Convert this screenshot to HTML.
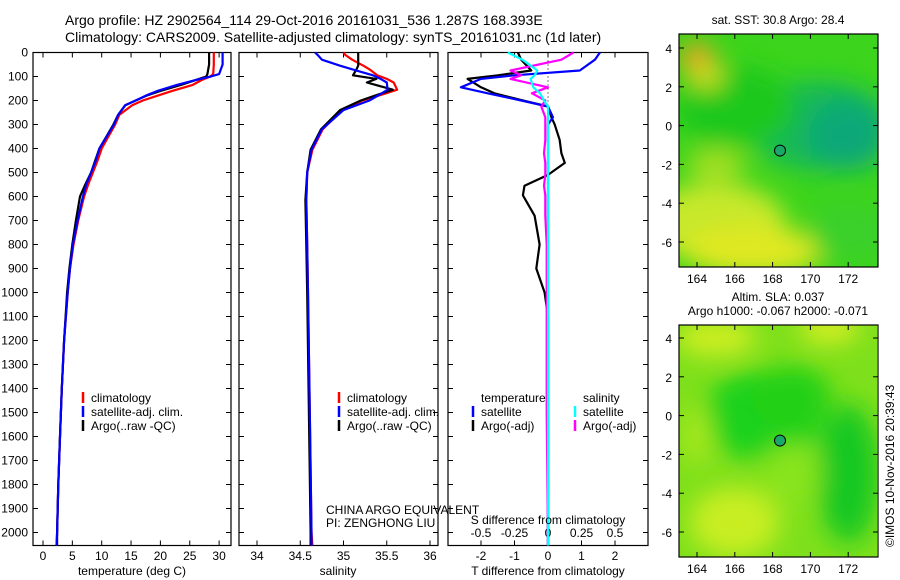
<!DOCTYPE html>
<html><head><meta charset="utf-8"><style>
html,body{margin:0;padding:0;background:#fff;}
svg{display:block;font-family:"Liberation Sans",sans-serif;}
</style></head><body>
<svg id="c" width="900" height="580" xmlns="http://www.w3.org/2000/svg">
<defs>
<filter id="bl" x="-50%" y="-50%" width="200%" height="200%"><feGaussianBlur stdDeviation="12"/></filter>
<clipPath id="m1c"><rect x="679" y="34" width="199" height="233"/></clipPath>
<clipPath id="m2c"><rect x="679" y="325" width="198" height="232"/></clipPath>
</defs>
<text x="65" y="25" font-size="14">Argo profile: HZ 2902564_114 29-Oct-2016 20161031_536 1.287S 168.393E</text>
<text x="65" y="42" font-size="14">Climatology: CARS2009. Satellite-adjusted climatology: synTS_20161031.nc (1d later)</text>
<g id="maps"></g>
<g id="plots"></g>
<text transform="translate(894,547) rotate(-90)" font-size="12">©IMOS 10-Nov-2016 20:39:43</text>
</svg>
<script>
// ---- data ----
const tDepth=[0,50,90,100,115,135,160,180,200,220,260,300,400,450,500,550,600,700,800,900,1000,1200,1400,1600,1800,2000,2054];
const tClim=[29.1,29.1,29.0,28.5,27.0,25.5,22.0,19.5,17.0,15.2,13.0,12.3,10.0,9.3,8.5,7.7,7.0,6.0,5.2,4.6,4.2,3.6,3.2,2.9,2.6,2.4,2.3];
const tSat=[30.6,30.6,30.0,28.6,26.0,22.8,19.5,17.5,15.8,14.0,12.8,12.1,9.6,9.0,8.2,7.4,6.8,5.9,5.1,4.6,4.2,3.6,3.2,2.9,2.6,2.4,2.3];
const tArgo=[28.3,28.3,28.0,27.8,26.0,23.5,20.0,17.6,15.8,14.0,12.8,12.0,9.6,8.9,8.2,7.2,6.3,5.6,5.0,4.5,4.1,3.6,3.2,2.9,2.6,2.4,2.4];
const sDepth=[0,10,30,55,70,95,110,125,155,175,200,240,320,405,500,615,800,1000,1500,2000,2054];
const sClim=[35.0,35.02,35.1,35.23,35.3,35.39,35.5,35.58,35.62,35.45,35.22,34.98,34.76,34.64,34.58,34.57,34.58,34.59,34.61,34.63,34.64];
const sSat=[34.67,34.7,34.75,34.96,35.1,35.34,35.43,35.5,35.51,35.42,35.3,35.0,34.75,34.63,34.58,34.57,34.58,34.59,34.61,34.63,34.63];
const sArgo=[35.17,35.17,35.17,35.17,35.15,35.11,35.38,35.27,35.57,35.4,35.2,34.96,34.74,34.62,34.58,34.56,34.57,34.58,34.6,34.62,34.62];
const dDepth=[0,30,75,95,110,145,170,200,225,270,300,365,420,460,510,555,595,680,800,900,1000,1100,1500,2054];
const dtSat=[1.55,1.4,0.95,-1.0,-2.0,-2.6,-1.8,-0.8,0,0.15,0,0,0,0,0,0,0,0,0,0,0,0,0,0];
const dtArgo=[-0.9,-0.8,-0.5,-1.5,-2.4,-2.0,-1.6,-0.75,0,0.1,0.2,0.35,0.4,0.5,0,-0.7,-0.75,-0.4,-0.25,-0.35,-0.1,0,0,0];
const dsSat=[-0.3,-0.19,-0.08,-0.1,-0.13,-0.11,-0.06,-0.03,0,0,0,0,0,0,0,0,0,0,0,0,0,0,0,0];
const dsArgo=[0.19,0.1,-0.28,-0.2,-0.28,0.0,-0.12,-0.02,-0.05,-0.02,-0.02,-0.02,-0.03,-0.02,-0.02,-0.03,-0.02,-0.02,-0.01,-0.01,-0.01,-0.01,-0.01,0];
const depthTicks=[0,100,200,300,400,500,600,700,800,900,1000,1100,1200,1300,1400,1500,1600,1700,1800,1900,2000];
const tTicks=[0,5,10,15,20,25,30];
const sTicks=[34,34.5,35,35.5,36];
const dtTicks=[-2,-1,0,1,2];
const dsTicks=[-0.5,-0.25,0,0.25,0.5];
const latTicks=[4,2,0,-2,-4,-6];
const lonTicks=[164,166,168,170,172];
const argoLon=168.393, argoLat=-1.287;

const NS='http://www.w3.org/2000/svg';
const plots=document.getElementById('plots');
const maps=document.getElementById('maps');
function mk(tag,attrs,parent){const e=document.createElementNS(NS,tag);for(const k in attrs)e.setAttribute(k,attrs[k]);(parent||plots).appendChild(e);return e;}
function txt(x,y,s,size,anchor,parent){const t=mk('text',{x:x,y:y,'font-size':size||12,'text-anchor':anchor||'start'},parent);t.textContent=s;return t;}
const yD=d=>52.5+d*0.24;
const xT=v=>43+v*5.87;
const xS=v=>257+(v-34)*86.5;
const xDT=v=>548+v*33.5;
const xDS=v=>548+v*134;

function frame(x0,x1,name){
  const r=mk('rect',{x:x0,y:52.5,width:x1-x0,height:493,fill:'none',stroke:'#000','stroke-width':1.2});
  
  
  depthTicks.forEach(d=>{mk('line',{x1:x0,x2:x0+5,y1:yD(d),y2:yD(d),stroke:'#000'});mk('line',{x1:x1-5,x2:x1,y1:yD(d),y2:yD(d),stroke:'#000'});});
}
function line(xs,ds,xf,color,name,w){
  const p=xs.map((v,i)=>xf(v).toFixed(1)+','+yD(ds[i]).toFixed(1)).join(' ');
  const e=mk('polyline',{points:p,fill:'none',stroke:color,'stroke-width':w||2.2,'stroke-linejoin':'round'});
  
  
}
function xticks(ticks,xf,y,top,bot,labelY,fmt){
  ticks.forEach(t=>{const x=xf(t);mk('line',{x1:x,x2:x,y1:top,y2:top+5,stroke:'#000'});mk('line',{x1:x,x2:x,y1:bot-5,y2:bot,stroke:'#000'});const l=txt(x,labelY,fmt?fmt(t):String(t),12,'middle');});
}
// panel 1
frame(33,231,'temperature-panel');
depthTicks.forEach(d=>{const l=txt(28,yD(d)+4,String(d),12,'end');});
xticks(tTicks,xT,0,52.5,545.5,560);
line(tClim,tDepth,xT,'#f00','temp-climatology-line');
line(tArgo,tDepth,xT,'#000','temp-argo-line');
line(tSat,tDepth,xT,'#00f','temp-satellite-line');
let a=txt(132,575,'temperature (deg C)',12,'middle');
// panel 2
frame(239,438,'salinity-panel');
xticks(sTicks,xS,0,52.5,545.5,560);
line(sClim,sDepth,xS,'#f00','sal-climatology-line');
line(sArgo,sDepth,xS,'#000','sal-argo-line');
line(sSat,sDepth,xS,'#00f','sal-satellite-line');
a=txt(338,575,'salinity',12,'middle');
// panel 3
frame(448,648,'difference-panel');
mk('line',{x1:548,x2:548,y1:52.5,y2:545,stroke:'#000','stroke-dasharray':'1,3'});
dtTicks.forEach(t=>{const x=xDT(t);mk('line',{x1:x,x2:x,y1:52.5,y2:57.5,stroke:'#000'});mk('line',{x1:x,x2:x,y1:540.5,y2:545.5,stroke:'#000'});const l=txt(x,560,String(t),12,'middle');});
dsTicks.forEach(t=>{const l=txt(xDS(t),537,String(t),12,'middle');});
line(dtArgo,dDepth,xDT,'#000','tdiff-argo-line');
line(dtSat,dDepth,xDT,'#00f','tdiff-satellite-line');
line(dsArgo,dDepth,xDS,'#f0f','sdiff-argo-line');
line(dsSat,dDepth,xDS,'#0ff','sdiff-satellite-line');
a=txt(548,575,'T difference from climatology',12,'middle');
a=txt(548,524,'S difference from climatology',12,'middle');
a=txt(326,514,'CHINA ARGO EQUIVALENT',12);
a=txt(326,527,'PI: ZENGHONG LIU',12);
// legends
function leg(x,y,color,label,name){mk('line',{x1:x,x2:x,y1:y-10,y2:y+1,stroke:color,'stroke-width':2.5});const t=txt(x+8,y,label,12);}
leg(83,402,'#f00','climatology','legend-climatology');
leg(83,416,'#00f','satellite-adj. clim.','legend-satellite');
leg(83,430,'#000','Argo(..raw -QC)','legend-argo');
leg(339,402,'#f00','climatology','legend2-climatology');
leg(339,416,'#00f','satellite-adj. clim.','legend2-satellite');
leg(339,430,'#000','Argo(..raw -QC)','legend2-argo');
a=txt(481,402,'temperature',12);
a=txt(583,402,'salinity',12);
leg(473,416,'#00f','satellite','legend-tdiff-satellite');
leg(473,430,'#000','Argo(-adj)','legend-tdiff-argo');
leg(575,416,'#0ff','satellite','legend-sdiff-satellite');
leg(575,430,'#f0f','Argo(-adj)','legend-sdiff-argo');

// ---- maps ----
const xL=l=>697+(l-164)*18.9;
function drawMap(top,bottom,lat4,latm6,clip,blobs,base,name){
  const yL=v=>lat4+(4-v)*(latm6-lat4)/10;
  const g=mk('g',{'clip-path':'url(#'+clip+')'},maps);
  
  
  mk('rect',{x:679,y:top,width:199,height:bottom-top,fill:base},g);
  const bg=mk('g',{filter:'url(#bl)'},g);
  blobs.forEach(b=>mk('ellipse',{cx:xL(b[0]),cy:yL(b[1]),rx:b[2],ry:b[3],fill:b[4]},bg));
  mk('rect',{x:679,y:top,width:199,height:bottom-top,fill:'none',stroke:'#000','stroke-width':1.2},maps);
  latTicks.forEach(t=>{const y=yL(t);mk('line',{x1:679,x2:684,y1:y,y2:y,stroke:'#000'},maps);mk('line',{x1:873,x2:878,y1:y,y2:y,stroke:'#000'},maps);const l=txt(672,y+5,String(t),12,'end',maps);});
  lonTicks.forEach(t=>{const x=xL(t);mk('line',{x1:x,x2:x,y1:top,y2:top+5,stroke:'#000'},maps);mk('line',{x1:x,x2:x,y1:bottom-5,y2:bottom,stroke:'#000'},maps);const l=txt(x,bottom+16,String(t),12,'middle',maps);});
  const c=mk('circle',{cx:xL(argoLon),cy:yL(argoLat),r:5.5,fill:'#1aa86a',stroke:'#000','stroke-width':1},maps);
  
  
}
drawMap(34,267,48,242,'m1c',[
 [170.5,0,70,45,'#12b858'],[172,-0.5,40,35,'#10a878'],[166,1,60,40,'#1ec81a'],
 [165,-5,70,40,'#c8e82a'],[167,-6.5,70,25,'#e0e820'],[172,-5.5,40,30,'#3ad02a'],
 [164,3.5,18,15,'#f0a020'],[164.5,2.5,18,12,'#c8e020'],[165,-2,30,15,'#a8e020']
],'#3cd41c','sst-map');
drawMap(325,557,338,532,'m2c',[
 [167.5,0,60,45,'#1cd21a'],[172,-3,30,70,'#12c820'],[169,1,40,30,'#22d018'],
 [165,4,40,18,'#cfee22'],[171,4.5,30,15,'#d8ee20'],[166,-5.5,45,35,'#c8ee20'],
 [164,-1,15,30,'#a6e81e'],[169,-3,30,30,'#88e41c']
],'#7ee01c','sla-map');
a=txt(778,24,'sat. SST: 30.8 Argo: 28.4',12,'middle',maps);
a=txt(778,301,'Altim. SLA: 0.037',12,'middle',maps);
a=txt(778,315,'Argo h1000: -0.067 h2000: -0.071',12,'middle',maps);
</script>
</body></html>
